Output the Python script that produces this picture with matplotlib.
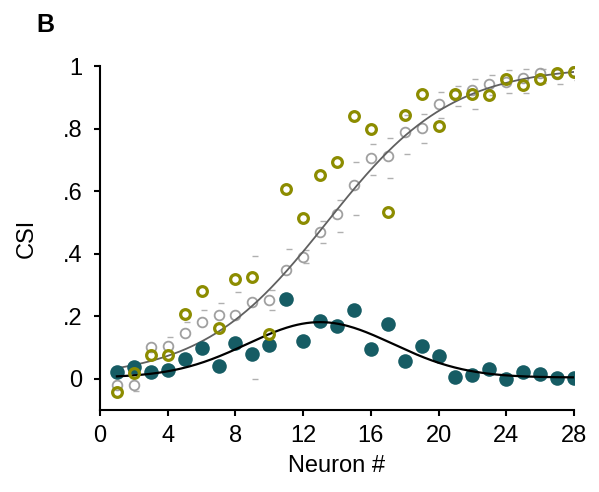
import matplotlib

matplotlib.use("Agg")
import matplotlib.pyplot as plt
import numpy as np

plt.rcParams["font.family"] = ["Liberation Sans", "DejaVu Sans"]

# neuron index
neuron = np.arange(1, 29)

# filled teal points
csi_teal = [0.020, 0.036, 0.020, 0.028, 0.062, 0.098, 0.042, 0.114, 0.079, 0.109,
            0.255, 0.122, 0.184, 0.169, 0.221, 0.094, 0.176, 0.057, 0.106, 0.072,
            0.006, 0.012, 0.031, 0.000, 0.020, 0.014, 0.003, 0.003]

# open olive points
csi_olive = [-0.041, 0.018, 0.077, 0.077, 0.207, 0.280, 0.163, 0.318, 0.325, 0.143,
             0.608, 0.514, 0.652, 0.693, 0.841, 0.800, 0.534, 0.843, 0.909, 0.808,
             0.912, 0.909, 0.907, 0.957, 0.940, 0.957, 0.979, 0.980]

# open grey points (mean) and the visible upper / lower bound marks
csi_grey = [-0.019, -0.019, 0.101, 0.104, 0.145, 0.180, 0.204, 0.204, 0.245, 0.253,
            0.348, 0.389, 0.468, 0.526, 0.619, 0.706, 0.712, 0.788, 0.801, 0.877,
            0.907, 0.923, 0.941, 0.949, 0.963, 0.977, 0.974, 0.984]
nan = np.nan
grey_hi = [nan, nan, nan, 0.132, 0.180, 0.220, 0.242, 0.276, 0.393, 0.285,
           0.416, 0.413, 0.505, 0.573, 0.693, 0.752, 0.771, 0.843, 0.848, 0.918,
           0.936, 0.958, 0.971, 0.986, 0.990, 0.990, nan, nan]
grey_lo = [nan, -0.040, nan, nan, nan, nan, nan, nan, -0.002, 0.221,
           nan, 0.370, 0.434, 0.469, 0.525, 0.652, 0.641, 0.720, 0.755, 0.833,
           0.873, 0.861, 0.907, 0.913, 0.915, 0.946, 0.942, 0.954]

# fitted curves: gaussian (teal) and sigmoid (grey)
gauss_amp, gauss_mu, gauss_sigma, gauss_base = 0.177, 13.0, 4.3, 0.004
sig_x0, sig_slope = 13.4, 3.7

x_ticks = [0, 4, 8, 12, 16, 20, 24, 28]
y_ticks = [0, 0.2, 0.4, 0.6, 0.8, 1.0]
y_ticklabels = ["0", ".2", ".4", ".6", ".8", "1"]

TEAL = "#165c64"
OLIVE = "#8c8c00"
GREY = "#a0a0a0"

fig = plt.figure(figsize=(5.99, 4.92), dpi=100)
ax = fig.add_axes([100 / 599, 1 - 410 / 492, 474 / 599, 344 / 492])

xs = np.linspace(1, 28, 300)
gauss = gauss_base + gauss_amp * np.exp(-((xs - gauss_mu) ** 2) / (2 * gauss_sigma ** 2))
sigm = 1.0 / (1.0 + np.exp(-(xs - sig_x0) / sig_slope))

# bound marks, slightly right of the points
ax.plot(neuron + 0.15, grey_hi, ls="none", marker="_", ms=5, mew=1.0, color="#b0b0b0", zorder=1)
ax.plot(neuron + 0.15, grey_lo, ls="none", marker="_", ms=5, mew=1.0, color="#b0b0b0", zorder=1)

ax.plot(neuron, csi_grey, ls="none", marker="o", ms=7, mfc="none", mec=GREY, mew=1.3, zorder=2)
ax.plot(xs, sigm, color="#606060", lw=1.3, zorder=3)

ax.plot(neuron, csi_teal, ls="none", marker="o", ms=10.5, color=TEAL, mec="none", zorder=4)
ax.plot(xs, gauss, color="black", lw=1.6, zorder=5)

ax.plot(neuron, csi_olive, ls="none", marker="o", ms=7, mfc="none", mec=OLIVE, mew=2.3, zorder=6)

ax.set_xlim(0, 28)
ax.set_ylim(-0.1, 1.0)
ax.set_xticks(x_ticks)
ax.set_yticks(y_ticks)
ax.set_yticklabels(y_ticklabels)
ax.tick_params(direction="out", length=4.5, width=1.5, labelsize=17)
ax.tick_params(axis="y", pad=8)
ax.tick_params(axis="x", pad=6)

for side in ("top", "right"):
    ax.spines[side].set_visible(False)
for side in ("left", "bottom"):
    ax.spines[side].set_linewidth(1.5)

ax.set_xlabel("Neuron #", fontsize=17, labelpad=6)
ax.set_ylabel("CSI", fontsize=17, labelpad=18)

fig.text(36 / 599, 1 - 32 / 492, "B", fontsize=18, fontweight="bold")

fig.savefig("out.png", dpi=100)
